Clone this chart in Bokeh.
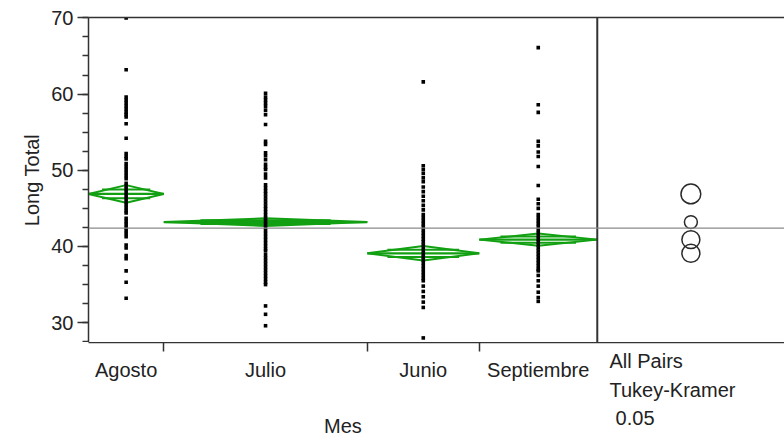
from bokeh.plotting import figure
from bokeh.layouts import column
from bokeh.models import (LinearAxis, FixedTicker, SingleIntervalTicker, Range1d,
                          Span)
from bokeh.core.properties import value
from bokeh.embed import file_html
from bokeh.resources import INLINE

# ---- data -------------------------------------------------------------
months = ["Agosto", "Julio", "Junio", "Septiembre"]
group_n = [37, 100, 55, 58]            # sample sizes, set the column widths
group_means = [46.9, 43.2, 39.1, 40.9]
ci_half = [1.15, 0.5, 0.95, 0.8]       # 95% CI half-width of each mean
circle_radius = [1.3, 0.85, 1.18, 1.18]  # Tukey-Kramer comparison circles
grand_mean = 42.4

agosto = [70.0, 63.2, 59.6, 59.2, 58.8, 58.4, 58.0, 57.6, 57.3, 57.0, 56.1, 54.2,
          52.2, 51.8, 51.5, 50.9, 50.5, 50.1, 49.7, 49.3, 48.9, 48.3, 47.9, 47.5,
          47.1, 46.7, 46.3, 45.9, 45.5, 45.1, 44.7, 44.4, 43.7, 43.3, 42.9, 42.5,
          42.1, 41.7, 41.3, 40.2, 39.8, 38.8, 38.4, 36.8, 35.3, 33.2]
julio = [60.1, 59.6, 59.2, 58.8, 58.4, 57.9, 57.3, 56.0, 53.8, 53.4, 52.3, 51.9,
         51.4, 50.8, 50.4, 50.1, 49.5, 49.0, 48.1, 47.7, 47.3, 46.9, 46.5, 46.1,
         45.7, 45.3, 44.9, 44.5, 44.1, 43.7, 43.3, 42.9, 42.5, 42.1, 41.7, 41.3,
         40.9, 40.5, 40.1, 39.7, 39.4, 38.9, 38.5, 38.1, 37.7, 37.3, 36.9, 36.5,
         36.1, 35.7, 35.3, 35.0, 32.2, 31.1, 29.6]
junio = [61.6, 50.6, 50.1, 49.6, 49.0, 48.5, 47.8, 47.2, 46.6, 46.0, 45.4, 44.8,
         44.2, 43.8, 43.4, 43.0, 42.6, 42.2, 41.8, 41.4, 41.0, 40.6, 40.2, 39.8,
         39.4, 39.0, 38.6, 38.2, 37.8, 37.4, 37.0, 36.6, 36.2, 35.8, 35.5, 34.8,
         34.1, 33.4, 32.7, 32.0, 28.0]
septiembre = [66.1, 58.6, 57.6, 53.8, 53.2, 52.4, 51.8, 50.5, 48.0, 46.2, 45.6,
              45.0, 44.2, 43.8, 43.4, 43.0, 42.6, 42.2, 41.8, 41.4, 41.0, 40.6,
              40.2, 39.8, 39.4, 39.0, 38.6, 38.2, 37.8, 37.4, 37.0, 36.8, 36.2,
              35.5, 34.8, 34.0, 33.3, 32.8]
observations = [agosto, julio, junio, septiembre]

x_title = "Mes"
y_title = "Long Total"
compare_lines = ["All Pairs", "Tukey-Kramer", "0.05"]

y_ticks_major = 10
y_lo, y_hi = 27.4, 70.05
compare_panel = 92   # width of the comparison-circle panel, same units as group_n

# ---- geometry derived from the group sizes ---------------------------
edges = [0]
for n in group_n:
    edges.append(edges[-1] + n)
lefts = edges[:-1]
rights = edges[1:]
centers = [(a + b) / 2 for a, b in zip(lefts, rights)]
total = edges[-1]
x_end = total + compare_panel
circle_x = total + compare_panel / 2

FONT = "Liberation Sans"
TXT = "#222222"
AX = "#333333"
GREEN = "#12a012"
W = 784
TOP_H = 342     # plot frame ends on the x-axis line
BOTTOM_H = 446 - TOP_H

p = figure(width=W, height=TOP_H, output_backend="svg", toolbar_location=None,
           x_range=Range1d(0, x_end), y_range=Range1d(y_lo, y_hi),
           x_axis_location=None, y_axis_location=None,
           min_border_left=88, min_border_right=0, min_border_top=17,
           min_border_bottom=0, outline_line_color=None,
           background_fill_color="white", border_fill_color="white")
p.xgrid.visible = False
p.ygrid.visible = False

# y axis
yax = LinearAxis(ticker=SingleIntervalTicker(interval=y_ticks_major, num_minor_ticks=4),
                 axis_label=y_title)
yax.axis_line_color = AX
yax.axis_line_width = 1.5
yax.major_tick_line_color = AX
yax.major_tick_line_width = 1.5
yax.major_tick_in = 0
yax.major_tick_out = 11
yax.minor_tick_line_color = AX
yax.minor_tick_line_width = 1.5
yax.minor_tick_in = 0
yax.minor_tick_out = 6
yax.major_label_standoff = 4
yax.major_label_text_font = FONT
yax.major_label_text_font_size = "20px"
yax.major_label_text_color = TXT
yax.axis_label_text_font = FONT
yax.axis_label_text_font_size = "20px"
yax.axis_label_text_font_style = "normal"
yax.axis_label_text_color = TXT
yax.axis_label_standoff = 5
p.add_layout(yax, "left")

# top frame line
tax = LinearAxis(ticker=FixedTicker(ticks=[]))
tax.axis_line_color = AX
tax.axis_line_width = 1.5
tax.major_tick_line_color = None
tax.minor_tick_line_color = None
tax.major_label_standoff = 0
tax.major_label_text_font_size = "0px"
p.add_layout(tax, "above")

# divider between the means plot and the comparison circles
p.add_layout(Span(location=total, dimension="height", line_color=AX, line_width=2))
# grand mean reference line
p.add_layout(Span(location=grand_mean, dimension="width", line_color="#8a8a8a",
                  line_width=1.3))

# means diamonds
dx, dy = [], []
for l, r, c, m, h in zip(lefts, rights, centers, group_means, ci_half):
    dx.append([l, c, r, c])
    dy.append([m, m + h, m, m - h])
p.patches(dx, dy, fill_color=None, line_color=GREEN, line_width=2)
p.segment(x0=lefts, y0=group_means, x1=rights, y1=group_means,
          line_color=GREEN, line_width=2.2)
ov_x0, ov_x1, ov_y = [], [], []
for l, r, m, h in zip(lefts, rights, group_means, ci_half):
    w = r - l
    for s in (1, -1):
        ov_x0.append(l + 0.18 * w)
        ov_x1.append(r - 0.18 * w)
        ov_y.append(m + s * 0.5 * h)
p.segment(x0=ov_x0, y0=ov_y, x1=ov_x1, y1=ov_y, line_color=GREEN, line_width=2)

# raw observations
px, py = [], []
for c, vals in zip(centers, observations):
    px.extend([c] * len(vals))
    py.extend(vals)
p.scatter(px, py, marker="square", size=3.6, fill_color="black", line_color=None)

# comparison circles
p.circle(x=[circle_x] * len(group_means), y=group_means, radius=circle_radius,
         radius_dimension="y", fill_color=None, line_color="#2a2a2a", line_width=1.5)

# ---- strip under the frame: x axis, month names, axis title, caption ----
# y here counts pixels downward from the x-axis line
q = figure(width=W, height=BOTTOM_H, output_backend="svg", toolbar_location=None,
           x_range=p.x_range, y_range=Range1d(BOTTOM_H, 0),
           x_axis_location=None, y_axis_location=None,
           min_border_left=88, min_border_right=0, min_border_top=0,
           min_border_bottom=0, outline_line_color=None,
           background_fill_color="white", border_fill_color="white")
q.xgrid.visible = False
q.ygrid.visible = False

# x axis line with tick marks at the column boundaries
xax = LinearAxis(ticker=FixedTicker(ticks=[], minor_ticks=edges[1:-1]))
xax.axis_line_color = AX
xax.axis_line_width = 1.5
xax.major_tick_line_color = None
xax.major_tick_in = 0
xax.major_tick_out = 0
xax.minor_tick_line_color = AX
xax.minor_tick_line_width = 1.5
xax.minor_tick_in = 9
xax.minor_tick_out = 0
xax.major_label_standoff = 0
xax.major_label_text_font_size = "0px"
q.add_layout(xax, "above")

q.text(x=centers, y=[27] * len(months), text=months, text_align="center",
       text_baseline="middle", text_font=value(FONT), text_font_size=value("20px"),
       text_color=TXT)
q.text(x=[total / 2], y=[83], text=[x_title], text_align="center",
       text_baseline="middle", text_font=value(FONT), text_font_size=value("20px"),
       text_color=TXT)
q.text(x=[total + 6, total + 6, total + 9], y=[18, 47, 75], text=compare_lines,
       text_align="left", text_baseline="middle", text_font=value(FONT),
       text_font_size=value("20px"), text_color=TXT)

layout = column(p, q, spacing=0)
open("out.html", "w").write(file_html(layout, INLINE))
